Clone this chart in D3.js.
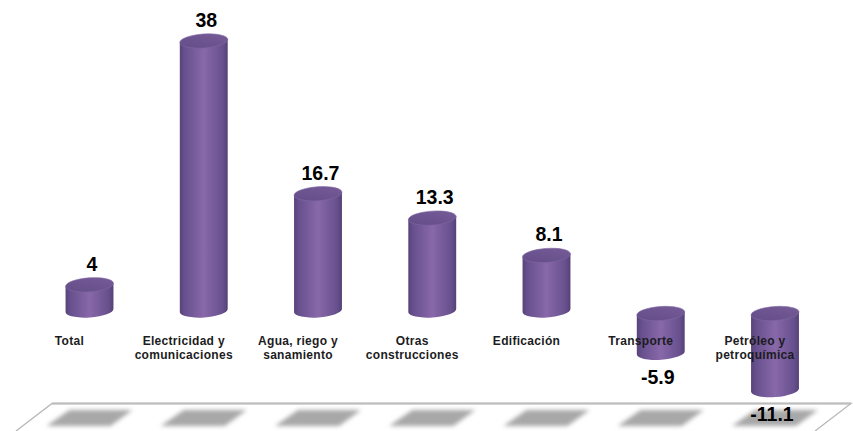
<!DOCTYPE html>
<html>
<head>
<meta charset="utf-8">
<script src="https://cdn.jsdelivr.net/npm/d3@7"></script>
<style>
  html, body { margin: 0; padding: 0; background: #fff; }
  svg { display: block; }
</style>
</head>
<body>
<script>
// Values
const categories = ["Total", "Electricidad y\ncomunicaciones", "Agua, riego y\nsanamiento",
  "Otras\nconstrucciones", "Edificación", "Transporte", "Petróleo y\npetroquímica"];
const values = [4, 38, 16.7, 13.3, 8.1, -5.9, -11.1];

const width = 853, height = 431;

const svg = d3.select("body").append("svg")
    .attr("width", width)
    .attr("height", height);

const x = d3.scalePoint()
    .domain(categories)
    .range([89.5, 775]);

const y = d3.scaleLinear()
    .domain([0, 38])
    .range([313.5, 41]);

const rx = 24, ry = 7, tilt = -4;
// ends of the tilted ellipse, relative to its centre
const ex = rx * Math.cos(tilt * Math.PI / 180),
      ey = rx * Math.sin(tilt * Math.PI / 180);

const defs = svg.append("defs");

const side = defs.append("linearGradient").attr("id", "side");
side.append("stop").attr("offset", "0%").attr("stop-color", "#574379");
side.append("stop").attr("offset", "10%").attr("stop-color", "#67508d");
side.append("stop").attr("offset", "50%").attr("stop-color", "#8868a9");
side.append("stop").attr("offset", "90%").attr("stop-color", "#67508d");
side.append("stop").attr("offset", "100%").attr("stop-color", "#544176");

const cap = defs.append("linearGradient").attr("id", "cap")
    .attr("x1", 0).attr("y1", 1).attr("x2", 1).attr("y2", 0);
cap.append("stop").attr("offset", "0%").attr("stop-color", "#624c87");
cap.append("stop").attr("offset", "100%").attr("stop-color", "#775c98");

defs.append("filter").attr("id", "blur")
    .attr("x", "-20%").attr("y", "-40%").attr("width", "140%").attr("height", "180%")
  .append("feGaussianBlur").attr("stdDeviation", 2.2);

// floor
svg.append("path")
    .attr("d", "M16,431L52,403.5L851,403.5L815,431")
    .attr("fill", "#fff")
    .attr("stroke", "#b8b8b8")
    .attr("stroke-width", 1.3);
svg.append("line")
    .attr("x1", 52).attr("x2", 851)
    .attr("y1", 403.5).attr("y2", 403.5)
    .attr("stroke", "#bdbdbd")
    .attr("stroke-width", 2);

// shadows
svg.selectAll(".shadow")
  .data(categories)
  .enter()
  .append("path")
    .attr("class", "shadow")
    .attr("d", function(d) {
      const c = x(d);
      return "M" + (c - 20) + ",410L" + (c + 43) + ",410L" + (c + 21) + ",426L" + (c - 43) + ",426Z";
    })
    .attr("fill", "#a8a8a8")
    .attr("filter", "url(#blur)");

const data = categories.map(function(d, i) { return { name: d, value: values[i] }; });

// the foot of each cylinder sits a little above the value it stands for
const barTop = function(d) { return d.value >= 0 ? y(d.value) : y(0); };
const barBottom = function(d) { return d.value >= 0 ? y(0) - 3 : y(d.value) - 3; };

// cylinders
const bars = svg.selectAll(".bar")
  .data(data)
  .enter()
  .append("g")
    .attr("class", "bar");

bars.append("path")
    .attr("d", function(d) {
      const c = x(d.name);
      return "M" + (c - ex) + "," + (barTop(d) - ey)
        + "L" + (c - ex) + "," + (barBottom(d) - ey)
        + "A" + rx + "," + ry + " " + tilt + " 0 0 " + (c + ex) + "," + (barBottom(d) + ey)
        + "L" + (c + ex) + "," + (barTop(d) + ey)
        + "Z";
    })
    .attr("fill", "url(#side)");

bars.append("ellipse")
    .attr("cx", function(d) { return x(d.name); })
    .attr("cy", barTop)
    .attr("rx", rx)
    .attr("ry", ry)
    .attr("transform", function(d) {
      return "rotate(" + tilt + " " + x(d.name) + " " + barTop(d) + ")";
    })
    .attr("fill", "url(#cap)")
    .attr("stroke", "#7f68a3")
    .attr("stroke-width", 0.6);

// category labels
const labels = svg.selectAll(".cat")
  .data(categories)
  .enter()
  .append("text")
    .attr("class", "cat")
    .attr("text-anchor", "middle")
    .attr("font-family", "Liberation Sans, Arial, sans-serif")
    .attr("font-size", 12)
    .attr("font-weight", "bold")
    .attr("letter-spacing", 0.3)
    .attr("fill", "#1c1c22");

labels.selectAll("tspan")
  .data(function(d) {
    return d.split("\n").map(function(t, i) { return { text: t, line: i, c: x(d) }; });
  })
  .enter()
  .append("tspan")
    .attr("x", function(d) { return d.c - 20; })
    .attr("y", function(d) { return 345 + d.line * 14; })
    .text(function(d) { return d.text; });

// value labels
svg.selectAll(".val")
  .data(data)
  .enter()
  .append("text")
    .attr("class", "val")
    .attr("text-anchor", "middle")
    .attr("font-family", "Liberation Sans, Arial, sans-serif")
    .attr("font-size", 19.5)
    .attr("font-weight", "bold")
    .attr("fill", "#000")
    .attr("x", function(d) { return x(d.name) + (d.value >= 0 ? 2.5 : -3); })
    .attr("y", function(d) { return d.value >= 0 ? y(d.value) - 14 : y(d.value) + 28; })
    .text(function(d) { return d.value; });
</script>
</body>
</html>
